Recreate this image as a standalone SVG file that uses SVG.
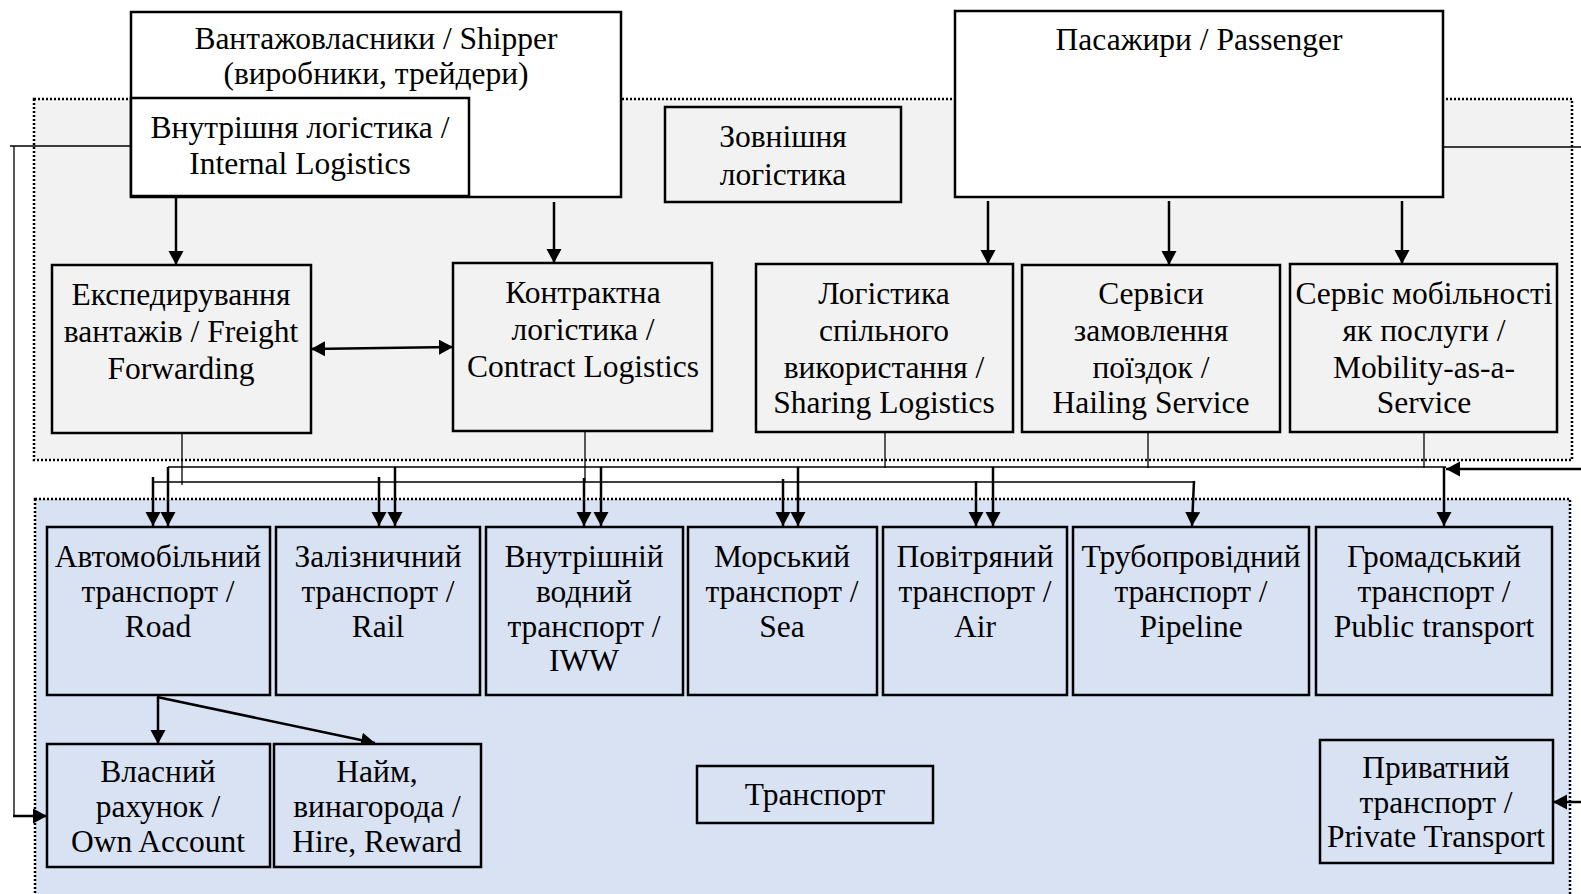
<svg xmlns="http://www.w3.org/2000/svg" width="1581" height="894" viewBox="0 0 1581 894">
  <style>
    .zone { stroke: #000; stroke-width: 2.5; stroke-dasharray: 2 2; }
    .box { stroke: #000; stroke-width: 2.5; }
    .w { fill: #ffffff; }
    .g { fill: #f2f2f2; }
    .b { fill: #d9e2f3; }
    .t { font-family: "Liberation Serif", "Times New Roman", serif; font-size: 31.5px; fill: #000; text-anchor: middle; }
    .thin { fill: none; stroke: #000; stroke-width: 1.3; }
    .arr { fill: none; stroke: #000; stroke-width: 2.5; marker-end: url(#head); }
    .dbl { fill: none; stroke: #000; stroke-width: 2.5; marker-end: url(#head); marker-start: url(#head); }
  </style>
  <defs>
    <marker id="head" markerUnits="userSpaceOnUse" markerWidth="16" markerHeight="16" refX="14" refY="7.5" orient="auto-start-reverse">
      <path d="M0,0 L14,7.5 L0,15 Z" fill="#000"/>
    </marker>
  </defs>

  <rect width="1581" height="894" fill="#ffffff"/>

  <!-- Zones: external logistics (grey) and transport (blue) -->
  <g id="zone-logistics">
    <rect class="zone g" x="34" y="99" width="1538" height="361"/>
  </g>
  <g id="zone-transport">
    <rect class="zone b" x="35" y="499" width="1535" height="410"/>
  </g>

  <!-- Connectors -->
  <g id="connectors">
    <!-- top arrows into logistics services -->
    <path class="arr" d="M176,198 V265"/>
    <path class="arr" d="M554,202 V263"/>
    <path class="arr" d="M988,201 V264"/>
    <path class="arr" d="M1169,201 V265"/>
    <path class="arr" d="M1402,201 V264"/>
    <!-- freight forwarding <-> contract logistics -->
    <path class="dbl" d="M311,349 L453,347"/>

    <!-- drops from logistics boxes to the buses -->
    <path class="thin" d="M182,433 V485"/>
    <path class="thin" d="M585,431 V482"/>
    <path class="thin" d="M885,432 V468"/>
    <path class="thin" d="M1148,432 V468"/>
    <path class="thin" d="M1424,432 V468"/>

    <!-- passenger-side bus and freight-side bus -->
    <path class="thin" d="M168,467 H1446"/>
    <path class="thin" d="M152,482 H1194"/>

    <!-- arrows from the freight bus -->
    <path class="arr" d="M153,477 V526"/>
    <path class="arr" d="M379,477 V526"/>
    <path class="arr" d="M584,478 V526"/>
    <path class="arr" d="M783,479 V526"/>
    <path class="arr" d="M976,481 V526"/>
    <path class="arr" d="M1194,481 L1192,526"/>
    <!-- arrows from the passenger bus -->
    <path class="arr" d="M168,467 V526"/>
    <path class="arr" d="M395,467 V526"/>
    <path class="arr" d="M601,467 V526"/>
    <path class="arr" d="M798,467 V526"/>
    <path class="arr" d="M993,467 V526"/>
    <path class="arr" d="M1444,467 V526"/>

    <!-- lines leaving/entering at the right edge -->
    <path class="thin" d="M1443,147 H1581"/>
    <path class="arr" d="M1581,469 H1446"/>
    <path class="arr" d="M1581,802 H1553"/>

    <!-- internal logistics to own account -->
    <path class="thin" d="M131,146 H10 M14,146 V816"/>
    <path class="arr" d="M13,816 H47"/>

    <!-- road transport to own account / hire -->
    <path class="arr" d="M158,697 V744"/>
    <path class="arr" d="M157,697 L375,743"/>
  </g>

  <!-- Demand side -->
  <g id="shipper">
    <rect class="box w" x="131" y="12" width="490" height="185"/>
    <text class="t" x="376" y="49">Вантажовласники / Shipper</text>
    <text class="t" x="376" y="84">(виробники, трейдери)</text>
  </g>
  <g id="internal-logistics">
    <rect class="box w" x="131" y="98" width="338" height="98"/>
    <text class="t" x="300" y="138">Внутрішня логістика /</text>
    <text class="t" x="300" y="174">Internal Logistics</text>
  </g>
  <g id="external-logistics-label">
    <rect class="box g" x="665" y="107" width="236" height="95"/>
    <text class="t" x="783" y="147">Зовнішня</text>
    <text class="t" x="783" y="185">логістика</text>
  </g>
  <g id="passenger">
    <rect class="box w" x="955" y="11" width="488" height="186"/>
    <text class="t" x="1199" y="50">Пасажири / Passenger</text>
  </g>

  <!-- Logistics services -->
  <g id="freight-forwarding">
    <rect class="box g" x="52" y="265" width="259" height="168"/>
    <text class="t" x="181" y="305">Експедирування</text>
    <text class="t" x="181" y="342">вантажів / Freight</text>
    <text class="t" x="181" y="379">Forwarding</text>
  </g>
  <g id="contract-logistics">
    <rect class="box g" x="453" y="263" width="259" height="168"/>
    <text class="t" x="583" y="303">Контрактна</text>
    <text class="t" x="583" y="340">логістика /</text>
    <text class="t" x="583" y="377">Contract Logistics</text>
  </g>
  <g id="sharing-logistics">
    <rect class="box g" x="756" y="264" width="257" height="168"/>
    <text class="t" x="884" y="304">Логістика</text>
    <text class="t" x="884" y="341">спільного</text>
    <text class="t" x="884" y="378">використання /</text>
    <text class="t" x="884" y="413">Sharing Logistics</text>
  </g>
  <g id="hailing-service">
    <rect class="box g" x="1022" y="265" width="258" height="167"/>
    <text class="t" x="1151" y="304">Сервіси</text>
    <text class="t" x="1151" y="341">замовлення</text>
    <text class="t" x="1151" y="378">поїздок /</text>
    <text class="t" x="1151" y="413">Hailing Service</text>
  </g>
  <g id="maas">
    <rect class="box g" x="1290" y="264" width="267" height="168"/>
    <text class="t" x="1424" y="304">Сервіс мобільності</text>
    <text class="t" x="1424" y="341">як послуги /</text>
    <text class="t" x="1424" y="378">Mobility-as-a-</text>
    <text class="t" x="1424" y="413">Service</text>
  </g>

  <!-- Transport modes -->
  <g id="road">
    <rect class="box b" x="47" y="527" width="223" height="168"/>
    <text class="t" x="158" y="567">Автомобільний</text>
    <text class="t" x="158" y="602">транспорт /</text>
    <text class="t" x="158" y="637">Road</text>
  </g>
  <g id="rail">
    <rect class="box b" x="276" y="527" width="204" height="168"/>
    <text class="t" x="378" y="567">Залізничний</text>
    <text class="t" x="378" y="602">транспорт /</text>
    <text class="t" x="378" y="637">Rail</text>
  </g>
  <g id="iww">
    <rect class="box b" x="486" y="527" width="197" height="168"/>
    <text class="t" x="584" y="567">Внутрішній</text>
    <text class="t" x="584" y="602">водний</text>
    <text class="t" x="584" y="637">транспорт /</text>
    <text class="t" x="584" y="671">IWW</text>
  </g>
  <g id="sea">
    <rect class="box b" x="688" y="527" width="189" height="168"/>
    <text class="t" x="782" y="567">Морський</text>
    <text class="t" x="782" y="602">транспорт /</text>
    <text class="t" x="782" y="637">Sea</text>
  </g>
  <g id="air">
    <rect class="box b" x="883" y="527" width="184" height="168"/>
    <text class="t" x="975" y="567">Повітряний</text>
    <text class="t" x="975" y="602">транспорт /</text>
    <text class="t" x="975" y="637">Air</text>
  </g>
  <g id="pipeline">
    <rect class="box b" x="1073" y="527" width="236" height="168"/>
    <text class="t" x="1191" y="567">Трубопровідний</text>
    <text class="t" x="1191" y="602">транспорт /</text>
    <text class="t" x="1191" y="637">Pipeline</text>
  </g>
  <g id="public-transport">
    <rect class="box b" x="1316" y="527" width="236" height="168"/>
    <text class="t" x="1434" y="567">Громадський</text>
    <text class="t" x="1434" y="602">транспорт /</text>
    <text class="t" x="1434" y="637">Public transport</text>
  </g>

  <!-- Operating modes -->
  <g id="own-account">
    <rect class="box b" x="47" y="744" width="223" height="123"/>
    <text class="t" x="158" y="782">Власний</text>
    <text class="t" x="158" y="817">рахунок /</text>
    <text class="t" x="158" y="852">Own Account</text>
  </g>
  <g id="hire-reward">
    <rect class="box b" x="274" y="744" width="207" height="123"/>
    <text class="t" x="377" y="782">Найм,</text>
    <text class="t" x="377" y="817">винагорода /</text>
    <text class="t" x="377" y="852">Hire, Reward</text>
  </g>
  <g id="transport-label">
    <rect class="box b" x="697" y="766" width="236" height="57"/>
    <text class="t" x="815" y="805">Транспорт</text>
  </g>
  <g id="private-transport">
    <rect class="box b" x="1320" y="740" width="233" height="123"/>
    <text class="t" x="1436" y="778">Приватний</text>
    <text class="t" x="1436" y="813">транспорт /</text>
    <text class="t" x="1436" y="847">Private Transport</text>
  </g>
</svg>
